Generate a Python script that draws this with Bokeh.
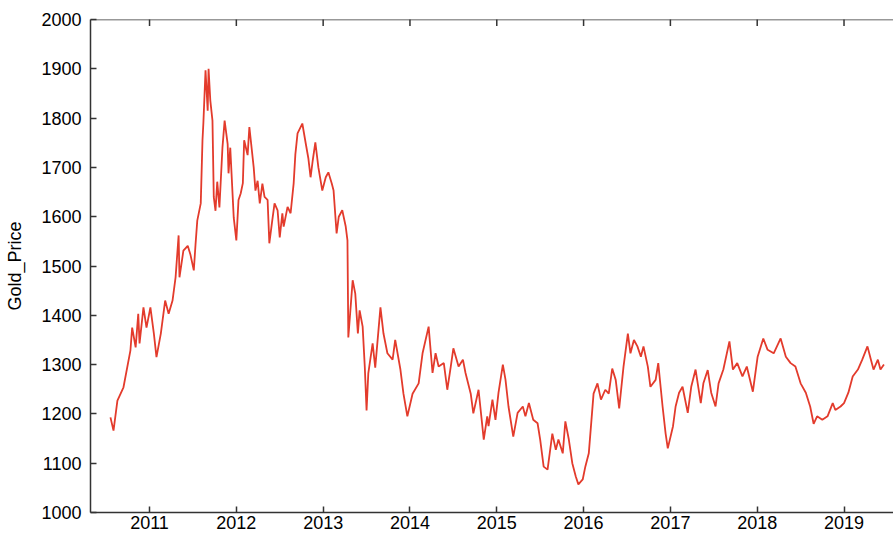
import math
from bokeh.plotting import figure
from bokeh.models import FixedTicker, Range1d, Span
from bokeh.embed import file_html
from bokeh.resources import INLINE

# Decimal year of each reading and the gold price
years = [
    2010.55, 2010.585, 2010.63, 2010.70, 2010.78, 2010.80, 2010.84, 2010.87, 2010.885, 2010.93,
    2010.965, 2011.01, 2011.05, 2011.08, 2011.13, 2011.18, 2011.22, 2011.265, 2011.30, 2011.335,
    2011.345, 2011.39, 2011.44, 2011.47, 2011.51, 2011.53, 2011.55, 2011.59, 2011.61, 2011.62,
    2011.645, 2011.67, 2011.68, 2011.70, 2011.725, 2011.74, 2011.76, 2011.78, 2011.805, 2011.84,
    2011.865, 2011.90, 2011.91, 2011.93, 2011.97, 2012.00, 2012.025, 2012.05, 2012.075, 2012.09,
    2012.13, 2012.15, 2012.20, 2012.22, 2012.245, 2012.27, 2012.30, 2012.325, 2012.36, 2012.38,
    2012.415, 2012.44, 2012.475, 2012.50, 2012.53, 2012.545, 2012.59, 2012.625, 2012.66, 2012.68,
    2012.705, 2012.76, 2012.80, 2012.83, 2012.855, 2012.88, 2012.91, 2012.945, 2012.99, 2013.03,
    2013.06, 2013.10, 2013.12, 2013.155, 2013.18, 2013.22, 2013.26, 2013.28, 2013.29, 2013.34,
    2013.37, 2013.40, 2013.42, 2013.455, 2013.48, 2013.50, 2013.52, 2013.57, 2013.60, 2013.66,
    2013.695, 2013.74, 2013.80, 2013.83, 2013.89, 2013.925, 2013.97, 2014.03, 2014.10, 2014.145,
    2014.215, 2014.26, 2014.295, 2014.33, 2014.39, 2014.43, 2014.47, 2014.50, 2014.56, 2014.61,
    2014.64, 2014.70, 2014.73, 2014.79, 2014.85, 2014.89, 2014.905, 2014.95, 2014.985, 2015.02,
    2015.07, 2015.10, 2015.135, 2015.19, 2015.24, 2015.30, 2015.33, 2015.37, 2015.42, 2015.47,
    2015.50, 2015.54, 2015.585, 2015.64, 2015.68, 2015.71, 2015.76, 2015.79, 2015.83, 2015.87,
    2015.91, 2015.94, 2015.99, 2016.02, 2016.06, 2016.115, 2016.16, 2016.20, 2016.25, 2016.29,
    2016.33, 2016.37, 2016.41, 2016.46, 2016.51, 2016.54, 2016.58, 2016.62, 2016.66, 2016.69,
    2016.74, 2016.77, 2016.83, 2016.86, 2016.91, 2016.945, 2016.97, 2017.03, 2017.06, 2017.10,
    2017.14, 2017.20, 2017.24, 2017.29, 2017.35, 2017.38, 2017.43, 2017.47, 2017.52, 2017.555,
    2017.61, 2017.68, 2017.72, 2017.77, 2017.83, 2017.88, 2017.95, 2018.005, 2018.07, 2018.12,
    2018.19, 2018.27, 2018.33, 2018.385, 2018.44, 2018.50, 2018.56, 2018.61, 2018.65, 2018.69,
    2018.75, 2018.81, 2018.87, 2018.90, 2018.96, 2019.00, 2019.05, 2019.10, 2019.16, 2019.21,
    2019.27, 2019.31, 2019.34, 2019.39, 2019.42, 2019.46,
]

gold_price = [
    1193, 1166, 1227, 1254, 1329, 1375, 1335, 1403, 1343, 1416,
    1375, 1416, 1363, 1315, 1363, 1430, 1403, 1430, 1477, 1562,
    1477, 1531, 1541, 1524, 1491, 1544, 1592, 1627, 1755, 1789,
    1897, 1815, 1900, 1836, 1795, 1640, 1612, 1671, 1619, 1740,
    1795, 1747, 1688, 1740, 1598, 1552, 1634, 1647, 1668, 1755,
    1725, 1782, 1700, 1653, 1673, 1627, 1667, 1640, 1634, 1546,
    1594, 1627, 1613, 1558, 1607, 1580, 1620, 1607, 1667, 1727,
    1769, 1789, 1748, 1718, 1680, 1714, 1751, 1700, 1653, 1680,
    1690, 1667, 1653, 1566, 1600, 1613, 1580, 1552, 1355, 1471,
    1444, 1363, 1410, 1377, 1294, 1207, 1282, 1343, 1294, 1416,
    1363, 1323, 1310, 1350, 1290, 1241, 1195, 1241, 1262, 1323,
    1377, 1283, 1323, 1296, 1303, 1249, 1296, 1333, 1296, 1310,
    1283, 1241, 1201, 1249, 1148, 1195, 1175, 1229, 1188, 1243,
    1300, 1270, 1215, 1154, 1202, 1215, 1195, 1222, 1188, 1181,
    1148, 1093, 1087, 1160, 1127, 1148, 1120, 1185, 1148, 1100,
    1073, 1057, 1067, 1093, 1120, 1241, 1262, 1229, 1249, 1241,
    1292, 1269, 1211, 1296, 1363, 1323, 1350, 1337, 1316, 1337,
    1296, 1255, 1269, 1303, 1215, 1160, 1130, 1175, 1215, 1243,
    1255, 1202, 1255, 1290, 1222, 1262, 1289, 1243, 1215, 1262,
    1290, 1347, 1290, 1303, 1276, 1296, 1245, 1316, 1353, 1330,
    1323, 1353, 1316, 1303, 1296, 1262, 1243, 1215, 1180, 1195,
    1188, 1195, 1222, 1208, 1215, 1222, 1243, 1276, 1290, 1310,
    1337, 1310, 1290, 1310, 1290, 1300,
]

year_ticks = [2011, 2012, 2013, 2014, 2015, 2016, 2017, 2018, 2019]
price_ticks = [1000, 1100, 1200, 1300, 1400, 1500, 1600, 1700, 1800, 1900, 2000]
y_label = "Gold_Price"

FONT = "Liberation Sans"
AXIS_COLOR = "#333333"
Y_MIN, Y_MAX = price_ticks[0], price_ticks[-1]

p = figure(
    width=893, height=536,
    output_backend="svg", toolbar_location=None,
    x_range=Range1d(2010.32, 2019.57), y_range=Range1d(Y_MIN, Y_MAX),
    min_border_left=90, min_border_top=19, min_border_right=0, min_border_bottom=24,
    background_fill_color="white", border_fill_color="white",
)
p.outline_line_color = None
p.grid.visible = False

p.line(years, gold_price, line_color="#E33B2C", line_width=1.8)

xa = p.xaxis[0]
xa.ticker = FixedTicker(ticks=year_ticks)
ya = p.yaxis[0]
ya.ticker = FixedTicker(ticks=price_ticks)
ya.axis_label = y_label

for ax in (xa, ya):
    ax.major_tick_in = 6
    ax.major_tick_out = 0
    ax.minor_tick_line_color = None
    ax.axis_line_color = AXIS_COLOR
    ax.major_tick_line_color = AXIS_COLOR
    ax.axis_line_width = 1.5
    ax.major_tick_line_width = 1.5
    ax.major_label_text_font = FONT
    ax.major_label_text_font_size = "18px"
    ax.major_label_text_color = "black"

xa.major_label_standoff = 3
ya.major_label_standoff = 9
ya.axis_label_text_font = FONT
ya.axis_label_text_font_size = "18px"
ya.axis_label_text_font_style = "normal"
ya.axis_label_text_color = "black"
ya.axis_label_standoff = 13

# top border line of the box with inward year ticks
p.add_layout(Span(location=Y_MAX, dimension="width", line_color=AXIS_COLOR, line_width=1.5))
p.scatter(x=year_ticks, y=[Y_MAX] * len(year_ticks), marker="dash", angle=math.pi / 2,
          size=13, line_color=AXIS_COLOR, line_width=1.5, fill_color=None)

open("out.html", "w").write(file_html(p, INLINE))
